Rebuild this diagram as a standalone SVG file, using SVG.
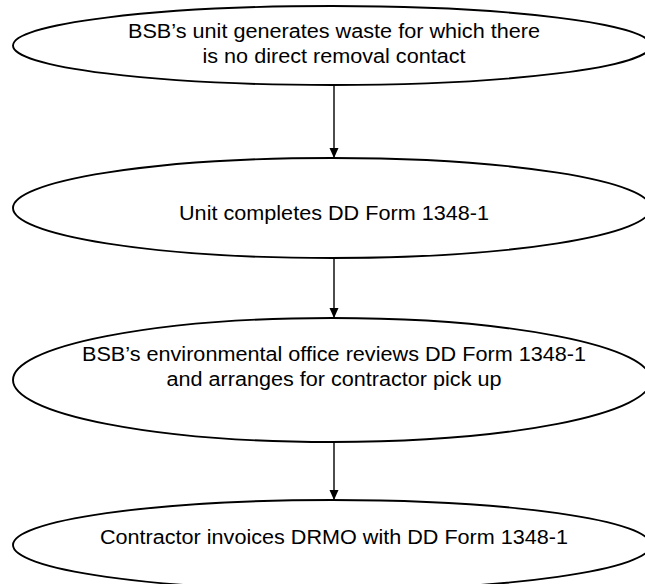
<svg xmlns="http://www.w3.org/2000/svg" width="645" height="584" viewBox="0 0 645 584">
<style>
.node ellipse{fill:#fff;stroke:#000;stroke-width:1.9}
.node text{font-family:"Liberation Sans",Arial,sans-serif;font-size:19.5px;fill:#000;text-anchor:middle}
.conn line{stroke:#000;stroke-width:1.4}
</style>
<defs>
<marker id="ah" markerWidth="10" markerHeight="10" refX="10" refY="4.5" orient="auto" markerUnits="userSpaceOnUse">
<path d="M0,0 L10,4.5 L0,9 Z" fill="#000"/>
</marker>
</defs>
<rect width="645" height="584" fill="#fff"/>
<g id="n1" class="node">
<ellipse cx="332" cy="45.5" rx="319" ry="39.5"/>
<text x="334" y="37.5" textLength="412" lengthAdjust="spacingAndGlyphs">BSB’s unit generates waste for which there</text>
<text x="334" y="62.5" textLength="263" lengthAdjust="spacingAndGlyphs">is no direct removal contact</text>
</g>
<g id="n2" class="node">
<ellipse cx="332" cy="208" rx="319" ry="50"/>
<text x="334" y="220" textLength="310" lengthAdjust="spacingAndGlyphs">Unit completes DD Form 1348-1</text>
</g>
<g id="n3" class="node">
<ellipse cx="332" cy="380" rx="319" ry="62"/>
<text x="334" y="361" textLength="504" lengthAdjust="spacingAndGlyphs">BSB’s environmental office reviews DD Form 1348-1</text>
<text x="334" y="386" textLength="335" lengthAdjust="spacingAndGlyphs">and arranges for contractor pick up</text>
</g>
<g id="n4" class="node">
<ellipse cx="332" cy="545" rx="319" ry="45"/>
<text x="334" y="544" textLength="468" lengthAdjust="spacingAndGlyphs">Contractor invoices DRMO with DD Form 1348-1</text>
</g>
<g id="connectors" class="conn">
<line x1="334" y1="85" x2="334" y2="158" marker-end="url(#ah)"/>
<line x1="334" y1="258" x2="334" y2="318" marker-end="url(#ah)"/>
<line x1="334" y1="442" x2="334" y2="500" marker-end="url(#ah)"/>
</g>
</svg>
